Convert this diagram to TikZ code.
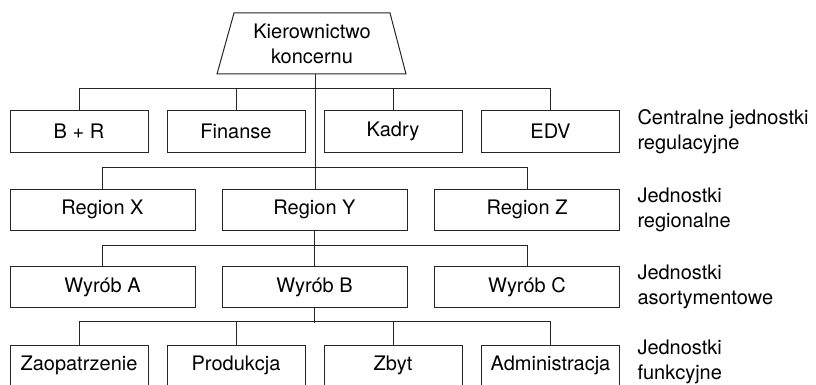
\documentclass[tikz,border=0pt]{standalone}
\usepackage{fontspec}
\setmainfont{TeX Gyre Heros}
\begin{document}
\begin{tikzpicture}[x=1pt,y=-1pt,
  line width=1pt,
  every node/.style={font=\fontsize{20}{25}\selectfont},
  box/.style={draw=black!85, line width=1pt, minimum height=41pt, inner sep=0pt},
  narrow/.style={box, minimum width=138pt},
  wide/.style={box, minimum width=185pt},
  side/.style={anchor=west, align=left, inner sep=0pt},
  conn/.style={draw=black!85, line width=1pt}]
\useasboundingbox (0,0) rectangle (816,385);
% top trapezoid
\draw[black!85] (234,13) -- (390,13) -- (406,74) -- (217,74) -- cycle;
\node[align=center, inner sep=0pt] (top) at (312,44) {Kierownictwo\\koncernu};
\coordinate (topb) at (315,74);
% row 1
\node[narrow] (br)  at (79,131.5)  {B + R};
\node[narrow] (fin) at (236,131.5) {Finanse};
\node[narrow] (kad) at (393,131.5) {Kadry};
\node[narrow] (edv) at (550.5,131.5) {EDV};
% row 2
\node[wide] (rx) at (102.5,209.5) {Region X};
\node[wide] (ry) at (314.5,209.5) {Region Y};
\node[wide] (rz) at (527,209.5) {Region Z};
% row 3
\node[wide] (wa) at (102.5,287) {Wyrób A};
\node[wide] (wb) at (314.5,287) {Wyrób B};
\node[wide] (wc) at (527,287) {Wyrób C};
% row 4
\node[narrow] (zao) at (79,365.5)  {Zaopatrzenie};
\node[narrow] (pro) at (236,365.5) {Produkcja};
\node[narrow] (zby) at (393,365.5) {Zbyt};
\node[narrow] (adm) at (550.5,365.5) {Administracja};
% side labels
\node[side] (l1) at (637,131.5) {Centralne jednostki\\regulacyjne};
\node[side] (l2) at (637,209.5) {Jednostki\\regionalne};
\node[side] (l3) at (637,286.5) {Jednostki\\asortymentowe};
\node[side] (l4) at (637,362) {Jednostki\\funkcyjne};
% connectors
\draw[conn] (topb) -- (topb |- ry.north);
\draw[conn] (br.north) -- ++(0,-22) -| (edv.north);
\draw[conn] (fin.north) -- ++(0,-22);
\draw[conn] (kad.north) -- ++(0,-22);
\draw[conn] (rx.north) -- ++(0,-21) -| (rz.north);
\draw[conn] (ry.south) -- (wb.north);
\draw[conn] (wa.north) -- ++(0,-21) -| (wc.north);
\draw[conn] (wb.south) -- ++(0,15);
\draw[conn] (zao.north) -- ++(0,-23) -| (adm.north);
\draw[conn] (pro.north) -- ++(0,-23);
\draw[conn] (zby.north) -- ++(0,-23);
\end{tikzpicture}
\end{document}
